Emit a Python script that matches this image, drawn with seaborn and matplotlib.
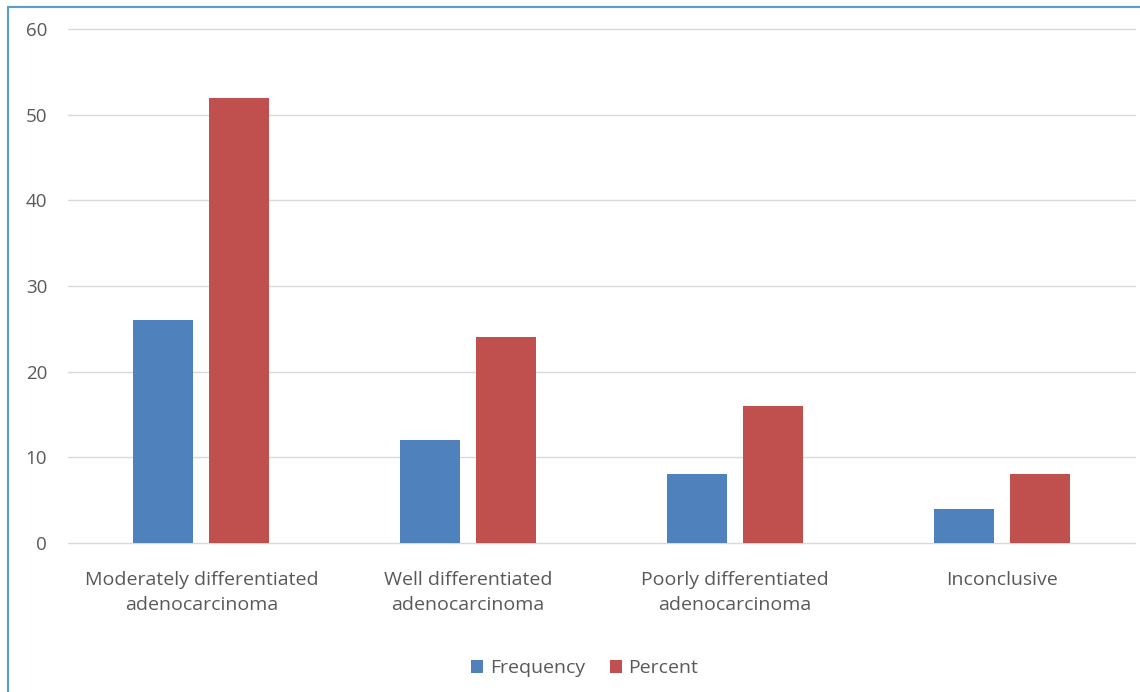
import matplotlib
matplotlib.use("Agg")
import matplotlib.pyplot as plt
from matplotlib.lines import Line2D
import seaborn as sns
import pandas as pd

categories = [
    "Moderately differentiated\nadenocarcinoma",
    "Well differentiated\nadenocarcinoma",
    "Poorly differentiated\nadenocarcinoma",
    "Inconclusive",
]
frequency = [26, 12, 8, 4]
percent = [52, 24, 16, 8]
series_names = ["Frequency", "Percent"]
y_ticks = [0, 10, 20, 30, 40, 50, 60]

df = pd.DataFrame({
    "category": categories * 2,
    "series": [series_names[0]] * len(categories) + [series_names[1]] * len(categories),
    "value": frequency + percent,
})

sns.set_theme(style="white")
plt.rcParams["font.family"] = ["Open Sans", "DejaVu Sans"]
text_color = "#595959"
grid_color = "#d9d9d9"

fig = plt.figure(figsize=(11.4, 6.92), dpi=100)
ax = fig.add_axes([0.0596, 0.2153, 0.936, 0.7428])

sns.barplot(
    data=df, x="category", y="value", hue="series",
    palette=["#4F81BD", "#C0504D"], saturation=1, width=0.57, gap=0.21,
    linewidth=0, ax=ax, legend=True,
)

ax.set_ylim(0, 60)
ax.set_xlim(-0.5, len(categories) - 0.5)
ax.set_yticks(y_ticks)
ax.yaxis.grid(True, color=grid_color, linewidth=1)
for gl in ax.get_ygridlines():
    gl.set_clip_on(False)
ax.set_axisbelow(True)
for s in ax.spines.values():
    s.set_visible(False)
ax.set_xlabel("")
ax.set_ylabel("")
ax.tick_params(axis="y", length=0, pad=15, labelsize=13.5, labelcolor=text_color)
ax.tick_params(axis="x", length=0, pad=20, labelsize=14, labelcolor=text_color)
for lbl in ax.get_xticklabels():
    lbl.set_linespacing(1.55)

handles, labels = ax.get_legend_handles_labels()
ax.legend_.remove()
fig.legend(
    handles, labels, loc="center", bbox_to_anchor=(0.513, 0.034), ncol=2,
    frameon=False, fontsize=14, labelcolor=text_color,
    handlelength=0.6, handleheight=0.6, handletextpad=0.35, columnspacing=1.3,
)

# Frame lines along the top and left edges
fig.add_artist(Line2D([8 / 1140, 1.0], [1 - 7 / 692, 1 - 7 / 692],
                      transform=fig.transFigure, color="#5B9BD5", linewidth=1.5))
fig.add_artist(Line2D([8 / 1140, 8 / 1140], [0.0, 1 - 7 / 692],
                      transform=fig.transFigure, color="#5B9BD5", linewidth=1.5))

fig.savefig("out.png", dpi=100, facecolor="white")
